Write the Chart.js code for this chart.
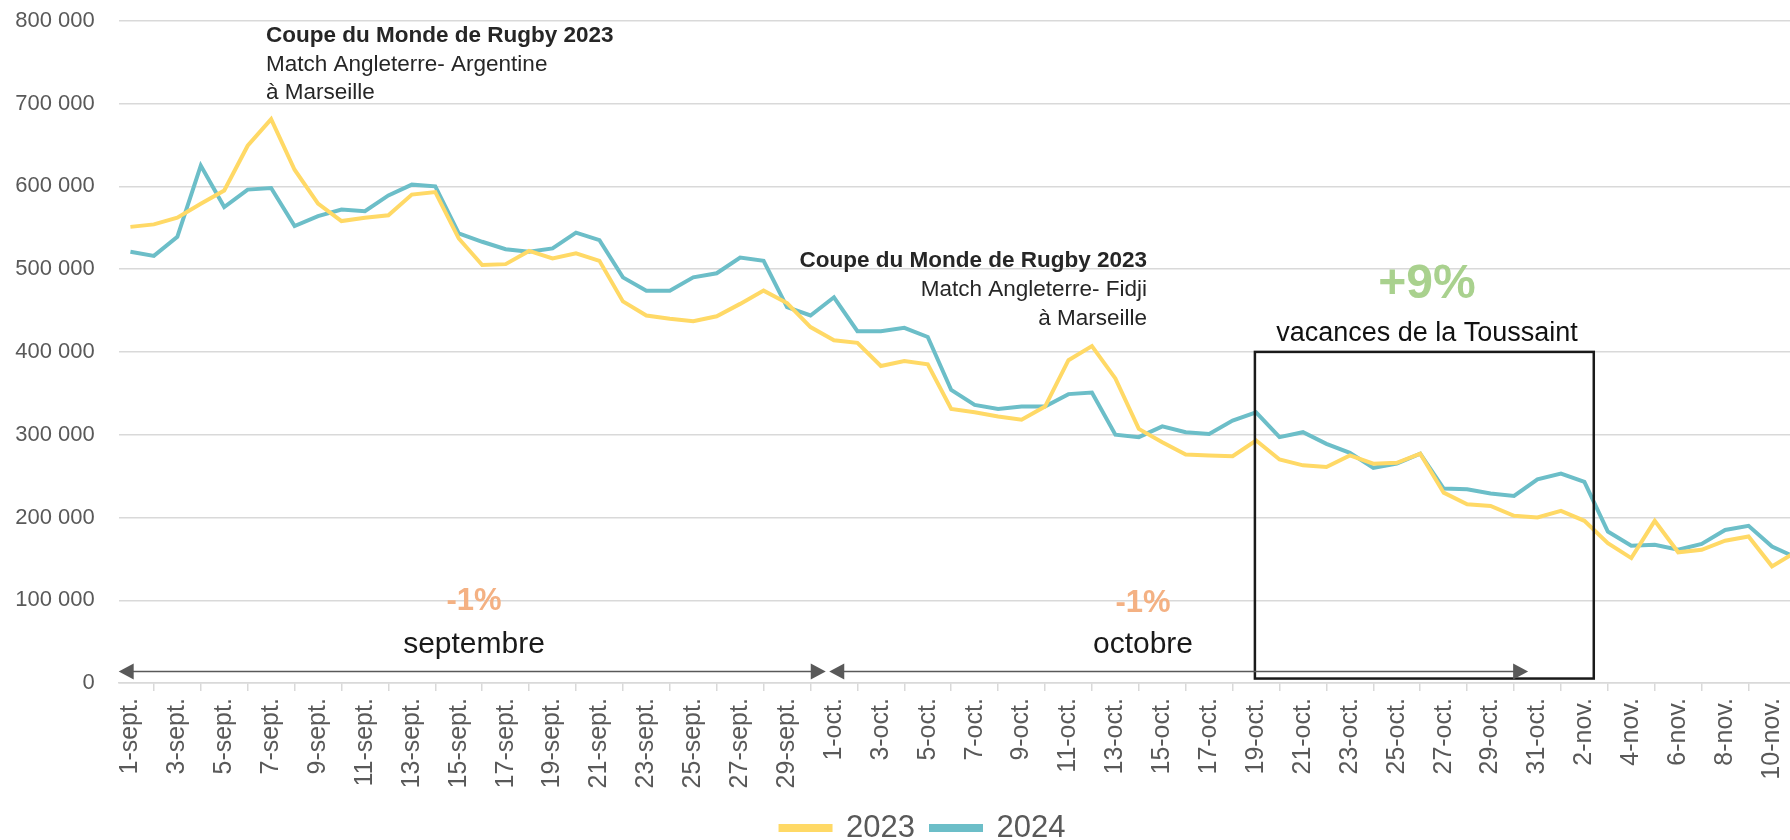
<!DOCTYPE html>
<html>
<head>
<meta charset="utf-8">
<script src="https://cdn.jsdelivr.net/npm/chart.js@4/dist/chart.umd.min.js"></script>
<style>
  html, body { margin: 0; padding: 0; background: #fff; overflow: hidden; }
  #wrap { position: relative; width: 1809px; height: 840px; }
</style>
</head>
<body>
<div id="wrap"><canvas id="myChart"></canvas></div>
<script>
// days shown on the x axis: 1-sept. .. 11-nov.
const months = [['sept.', 30], ['oct.', 31], ['nov.', 11]]
const labels = []
months.forEach(m => {
    for (let d = 1; d <= m[1]; d++) labels.push(`${d}-${m[0]}`)
})

const visitors_2023 = [
    551000, 554000, 562000, 579000, 595000, 649000, 681000, 620000, 579000, 558000,
    562000, 565000, 590000, 593000, 537000, 505000, 506000, 522000, 513000, 519000,
    510000, 461000, 444000, 440000, 437000, 443000, 458000, 474000, 459000, 430000,
    414000, 411000, 383000, 389000, 385000, 331000, 327000, 322000, 318000, 334000,
    390000, 407000, 368000, 307000, 291000, 276000, 275000, 274000, 293000, 270000,
    263000, 261000, 275000, 265000, 266000, 277000, 230000, 216000, 214000, 202000,
    200000, 208000, 196000, 169000, 151000, 196000, 158000, 161000, 172000, 177000,
    141000, 158000
]
const visitors_2024 = [
    521000, 516000, 539000, 625000, 575000, 596000, 598000, 552000, 564000, 572000,
    570000, 589000, 602000, 600000, 543000, 533000, 524000, 521000, 525000, 544000,
    535000, 490000, 474000, 474000, 490000, 495000, 514000, 510000, 454000, 444000,
    466000, 425000, 425000, 429000, 418000, 354000, 336000, 331000, 334000, 334000,
    349000, 351000, 300000, 297000, 310000, 303000, 301000, 317000, 327000, 297000,
    303000, 289000, 278000, 260000, 265000, 277000, 235000, 234000, 229000, 226000,
    246000, 253000, 243000, 183000, 166000, 167000, 161000, 168000, 185000, 190000,
    165000, 152000
]

const color_2023 = '#FFD966'
const color_2024 = '#6CBEC8'
const tick_color = '#595959'
const font_family = "'Liberation Sans', Arial, sans-serif"

function fmt_thousands(v) {
    return String(v).replace(/\B(?=(\d{3})+(?!\d))/g, ' ')
}

// text, box and arrows drawn over the chart
const notes_plugin = {
    id: 'notes',
    afterLayout(chart) {
        // the source chart is wider than the visible crop, so its legend sits a bit right of centre
        chart.legend.left += 18.5
        chart.legend.right += 18.5
    },
    afterDatasetsDraw(chart) {
        const ctx = chart.ctx
        const x = chart.scales.x
        const y = chart.scales.y
        ctx.save()

        // vacances box
        ctx.strokeStyle = '#1a1a1a'
        ctx.lineWidth = 2.5
        const bx1 = x.getPixelForValue(47.95), bx2 = x.getPixelForValue(62.4)
        const by1 = y.getPixelForValue(400000), by2 = y.getPixelForValue(5500)
        ctx.strokeRect(bx1, by1, bx2 - bx1, by2 - by1)

        // month arrows
        const ay = y.getPixelForValue(14000)
        draw_arrow(ctx, x.getPixelForValue(-0.5), x.getPixelForValue(29.65), ay)
        draw_arrow(ctx, x.getPixelForValue(29.8), x.getPixelForValue(59.6), ay)

        ctx.textBaseline = 'middle'
        ctx.fillStyle = '#262626'
        ctx.textAlign = 'left'
        ctx.font = `bold 22.5px ${font_family}`
        ctx.fillText('Coupe du Monde de Rugby 2023', 266, 36)
        ctx.font = `22.5px ${font_family}`
        ctx.fillText('Match Angleterre- Argentine', 266, 65)
        ctx.fillText('à Marseille', 266, 93)

        ctx.textAlign = 'right'
        ctx.font = `bold 22.5px ${font_family}`
        ctx.fillText('Coupe du Monde de Rugby 2023', 1147, 261)
        ctx.font = `22.5px ${font_family}`
        ctx.fillText('Match Angleterre- Fidji', 1147, 290)
        ctx.fillText('à Marseille', 1147, 319)

        ctx.textAlign = 'center'
        ctx.fillStyle = '#A9D18E'
        ctx.font = `bold 48px ${font_family}`
        ctx.fillText('+9%', 1427, 285)
        ctx.fillStyle = '#111'
        ctx.font = `27px ${font_family}`
        ctx.fillText('vacances de la Toussaint', 1427, 334)

        ctx.fillStyle = '#F4B183'
        ctx.font = `bold 31px ${font_family}`
        ctx.fillText('-1%', 474, 601)
        ctx.fillText('-1%', 1143, 603)
        ctx.fillStyle = '#1a1a1a'
        ctx.font = `30px ${font_family}`
        ctx.fillText('septembre', 474, 645)
        ctx.fillText('octobre', 1143, 645)

        ctx.restore()
    }
}

function draw_arrow(ctx, x1, x2, yy) {
    ctx.strokeStyle = '#595959'
    ctx.fillStyle = '#595959'
    ctx.lineWidth = 1.5
    ctx.beginPath()
    ctx.moveTo(x1 + 6, yy)
    ctx.lineTo(x2 - 6, yy)
    ctx.stroke()
    head(x2, -1)
    head(x1, 1)

    function head(px, dir) {
        ctx.beginPath()
        ctx.moveTo(px, yy)
        ctx.lineTo(px + dir * 15, yy - 8)
        ctx.lineTo(px + dir * 15, yy + 8)
        ctx.closePath()
        ctx.fill()
    }
}

let myChart = new Chart(document.getElementById('myChart'), {
    type: 'line',
    data: {
        labels: labels,
        datasets: [{
            label: '2023',
            data: visitors_2023,
            borderColor: color_2023,
            backgroundColor: color_2023,
            borderWidth: 4,
            pointRadius: 0,
            tension: 0
        }, {
            label: '2024',
            data: visitors_2024,
            borderColor: color_2024,
            backgroundColor: color_2024,
            borderWidth: 4,
            pointRadius: 0,
            tension: 0
        }]
    },
    options: {
        responsive: true,
        maintainAspectRatio: false,
        animation: false,
        layout: { padding: { top: 20.7, left: 0, right: 0, bottom: -13.6 } },
        scales: {
            x: {
                offset: true,
                grid: {
                    offset: true,
                    drawOnChartArea: false,
                    color: '#d9d9d9',
                    lineWidth: 1.5,
                    tickLength: 8
                },
                border: { color: '#d9d9d9', width: 1.5 },
                ticks: {
                    autoSkip: false,
                    maxRotation: 90,
                    minRotation: 90,
                    padding: 7,
                    color: tick_color,
                    font: { family: font_family, size: 25 },
                    callback: function (val, i) {
                        return i % 2 === 0 ? this.getLabelForValue(val) : null
                    }
                },
                afterFit: (scale) => { scale.height = 113.5 }
            },
            y: {
                min: 0,
                max: 800000,
                grid: {
                    color: '#d9d9d9',
                    lineWidth: 1.5,
                    drawTicks: true,
                    tickLength: 24,
                    tickColor: 'rgba(0,0,0,0)'
                },
                border: { display: false },
                ticks: {
                    stepSize: 100000,
                    padding: 0,
                    color: tick_color,
                    font: { family: font_family, size: 22 },
                    callback: v => fmt_thousands(v)
                },
                afterFit: (scale) => { scale.width = 118.7 }
            }
        },
        plugins: {
            legend: {
                position: 'bottom',
                labels: {
                    color: tick_color,
                    font: { family: font_family, size: 31 },
                    boxWidth: 50,
                    boxHeight: 4,
                    padding: 16
                }
            },
            tooltip: { enabled: false }
        }
    },
    plugins: [notes_plugin]
})
</script>
</body>
</html>
